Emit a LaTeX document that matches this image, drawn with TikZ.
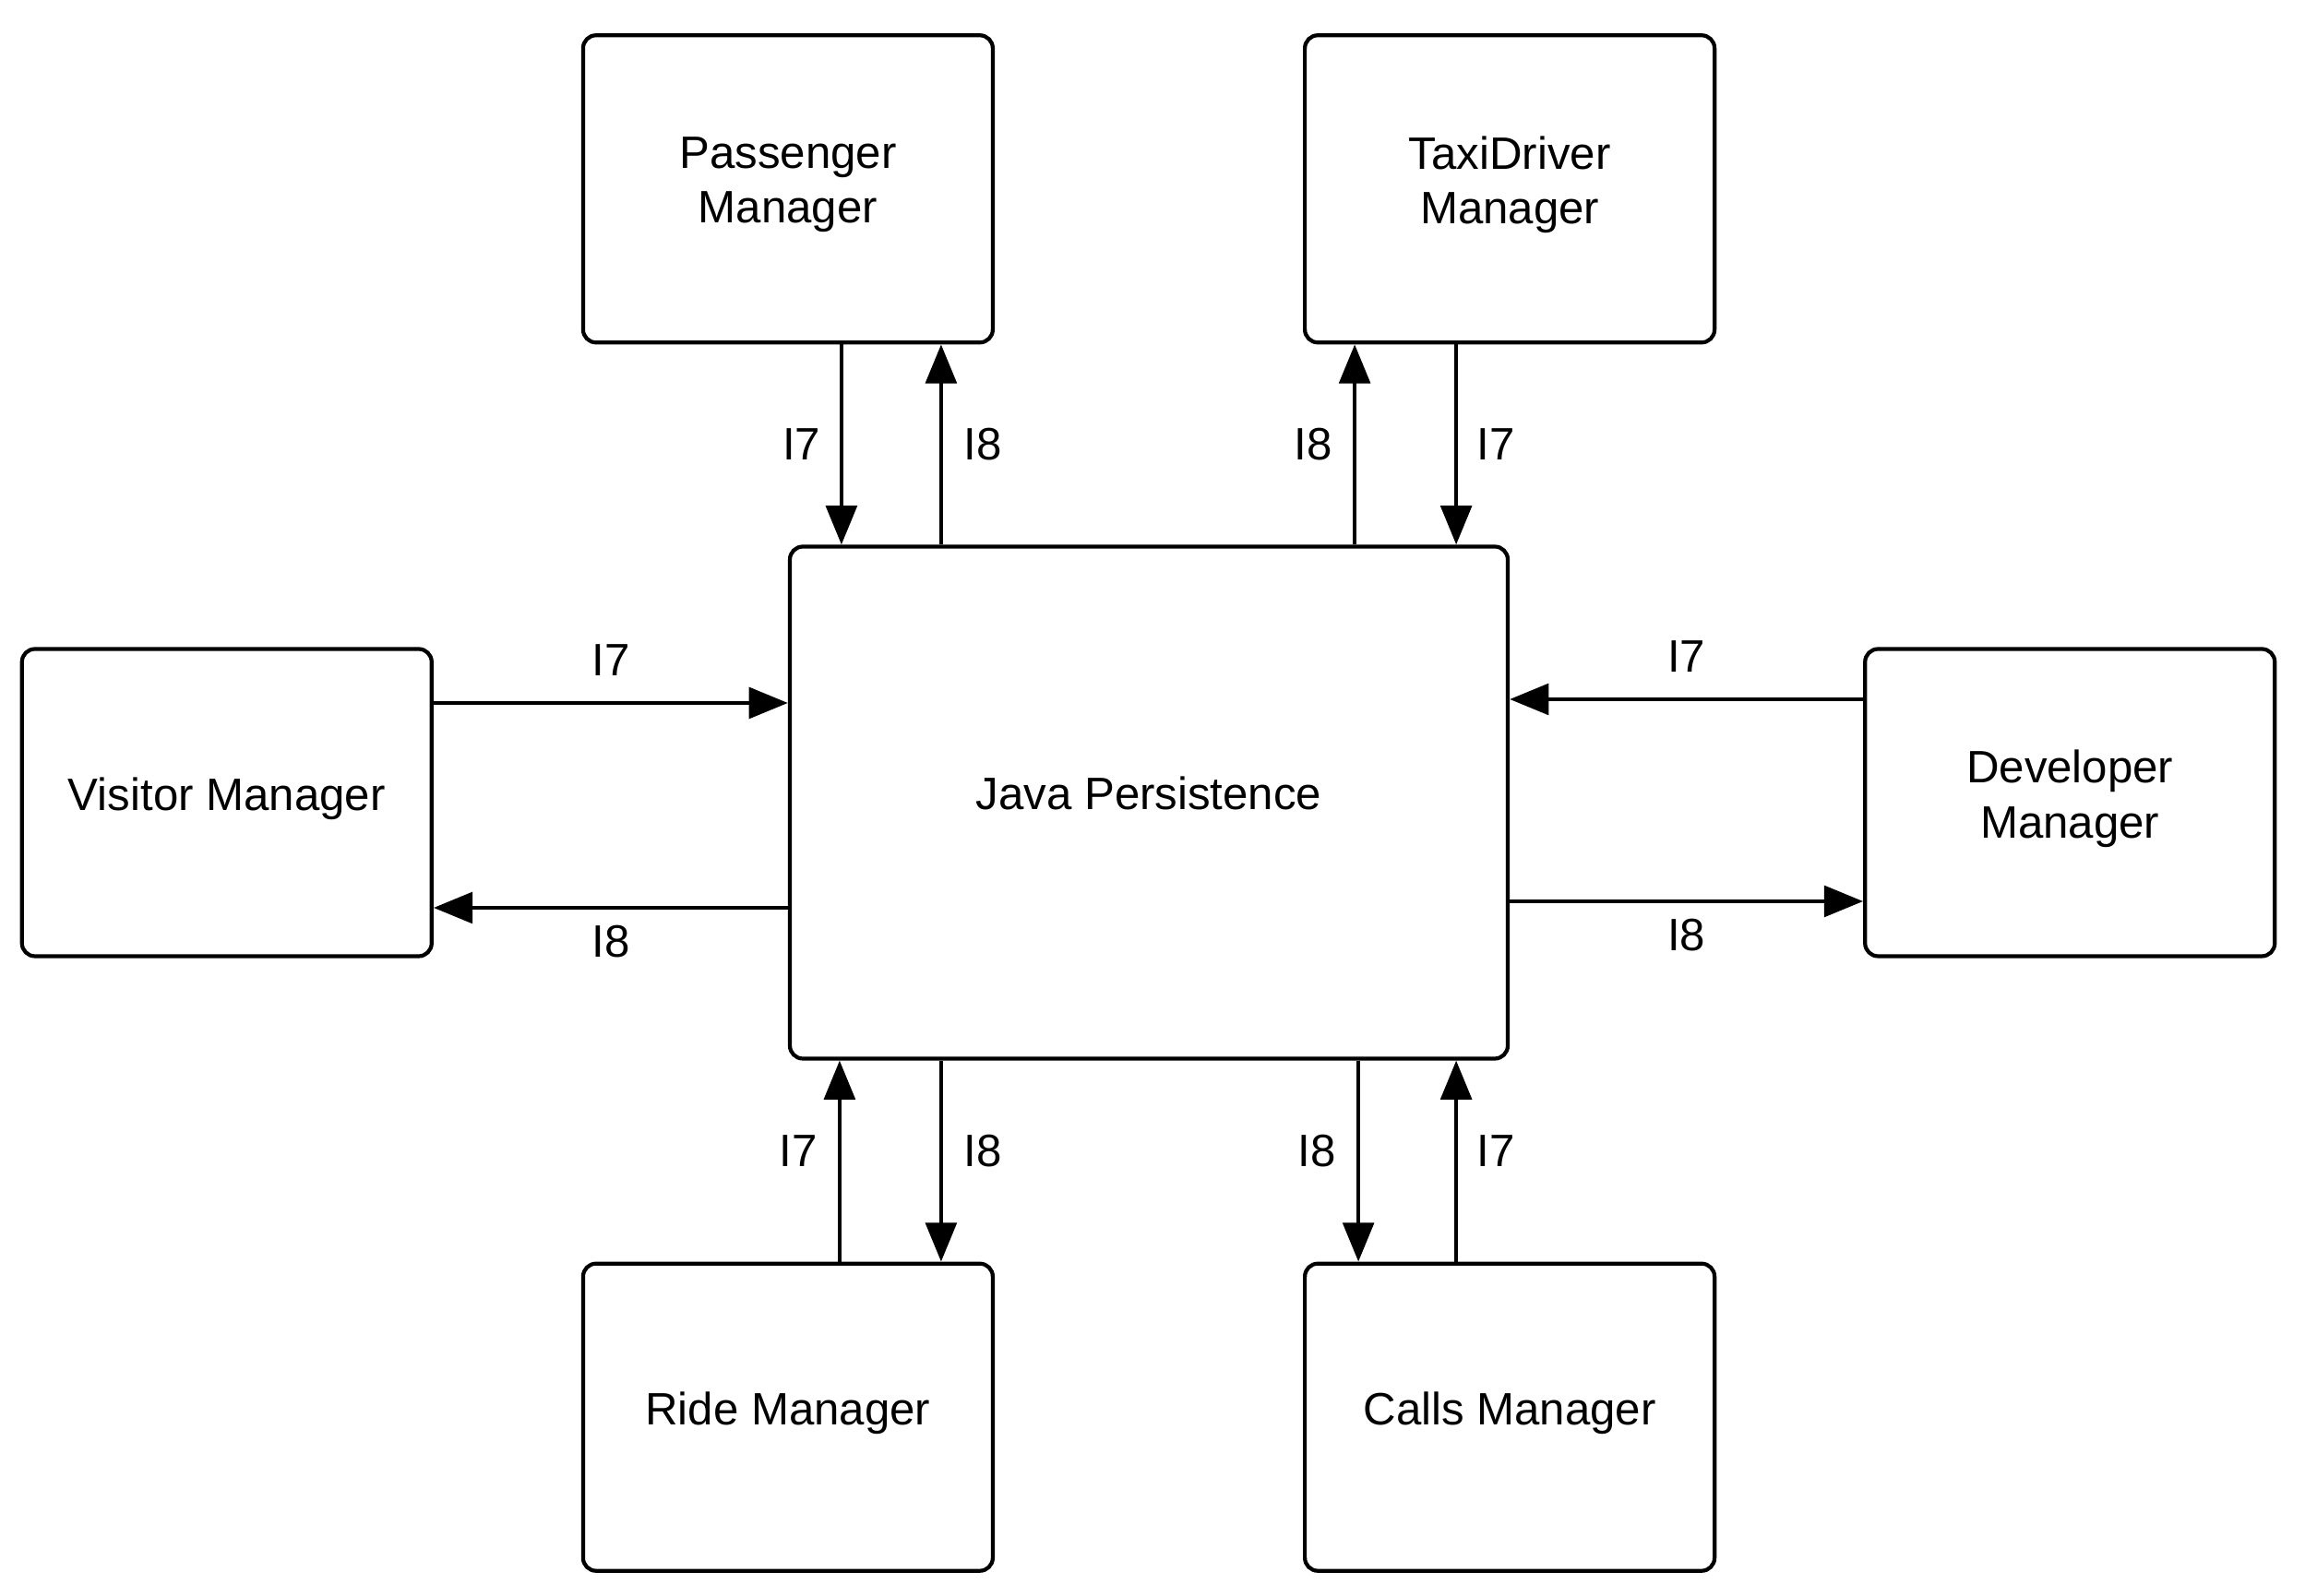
\documentclass[tikz,border=0pt]{standalone}
\usepackage{fontspec}
\setmainfont{Liberation Sans}
\usetikzlibrary{arrows.meta,positioning}

\begin{document}
\begin{tikzpicture}
	[->,>={Triangle[length=12pt,width=9.5pt]},line width=1.3pt,
		font=\fontsize{14}{17}\selectfont,
		base node/.style={rectangle,draw,rounded corners=4pt,align=center,minimum width=4.44cm,minimum height=3.33cm,line width=1.2pt,text depth=5.5pt},
		core node/.style={base node,minimum width=7.78cm,minimum height=5.55cm,text depth=6pt}]
	\useasboundingbox (0,0) rectangle (24.98,17.30);

	\node[core node] at (12.45,8.60) (JP) {Java Persistence};
	\node[base node] [above=2.17cm of JP.north west] (PM) {Passenger\\Manager};
	\node[base node] [above=2.17cm of JP.north east] (TM) {TaxiDriver\\Manager};
	\node[base node] [left=3.84cm of JP]  (VM) {Visitor Manager};
	\node[base node] [right=3.83cm of JP] (DM) {Developer\\Manager};
	\node[base node] [below=2.18cm of JP.south west] (RM) {Ride Manager};
	\node[base node] [below=2.18cm of JP.south east] (CM) {Calls Manager};

	\path[]
	([xshift=0.58cm]PM.south) edge node[left=2.5pt] {I7} ([xshift=0.58cm]JP.north west)
	([xshift=1.66cm]JP.north west) edge node[right=3pt] {I8} ([xshift=1.66cm]PM.south)
	([xshift=-1.68cm]JP.north east) edge node[left=3pt] {I8} ([xshift=-1.68cm]TM.south)
	([xshift=-0.58cm]TM.south) edge node[right=2.5pt] {I7} ([xshift=-0.58cm]JP.north east)
	([yshift=1.08cm]VM.east) edge node[above=4.5pt] {I7} ([yshift=1.08cm]JP.west)
	([yshift=-1.14cm]JP.west) edge node[below=1.4pt] {I8} ([yshift=-1.14cm]VM.east)
	([yshift=1.12cm]DM.west) edge node[above=4.5pt] {I7} ([yshift=1.12cm]JP.east)
	([yshift=-1.07cm]JP.east) edge node[below=1.4pt] {I8} ([yshift=-1.07cm]DM.west)
	([xshift=0.56cm]RM.north) edge node[left=3pt,yshift=3pt] {I7} ([xshift=0.56cm]JP.south west)
	([xshift=1.66cm]JP.south west) edge node[right=3pt,yshift=3pt] {I8} ([xshift=1.66cm]RM.north)
	([xshift=-1.64cm]JP.south east) edge node[left=3pt,yshift=3pt] {I8} ([xshift=-1.64cm]CM.north)
	([xshift=-0.58cm]CM.north) edge node[right=2.5pt,yshift=3pt] {I7} ([xshift=-0.58cm]JP.south east)

	;

\end{tikzpicture}
\end{document}
